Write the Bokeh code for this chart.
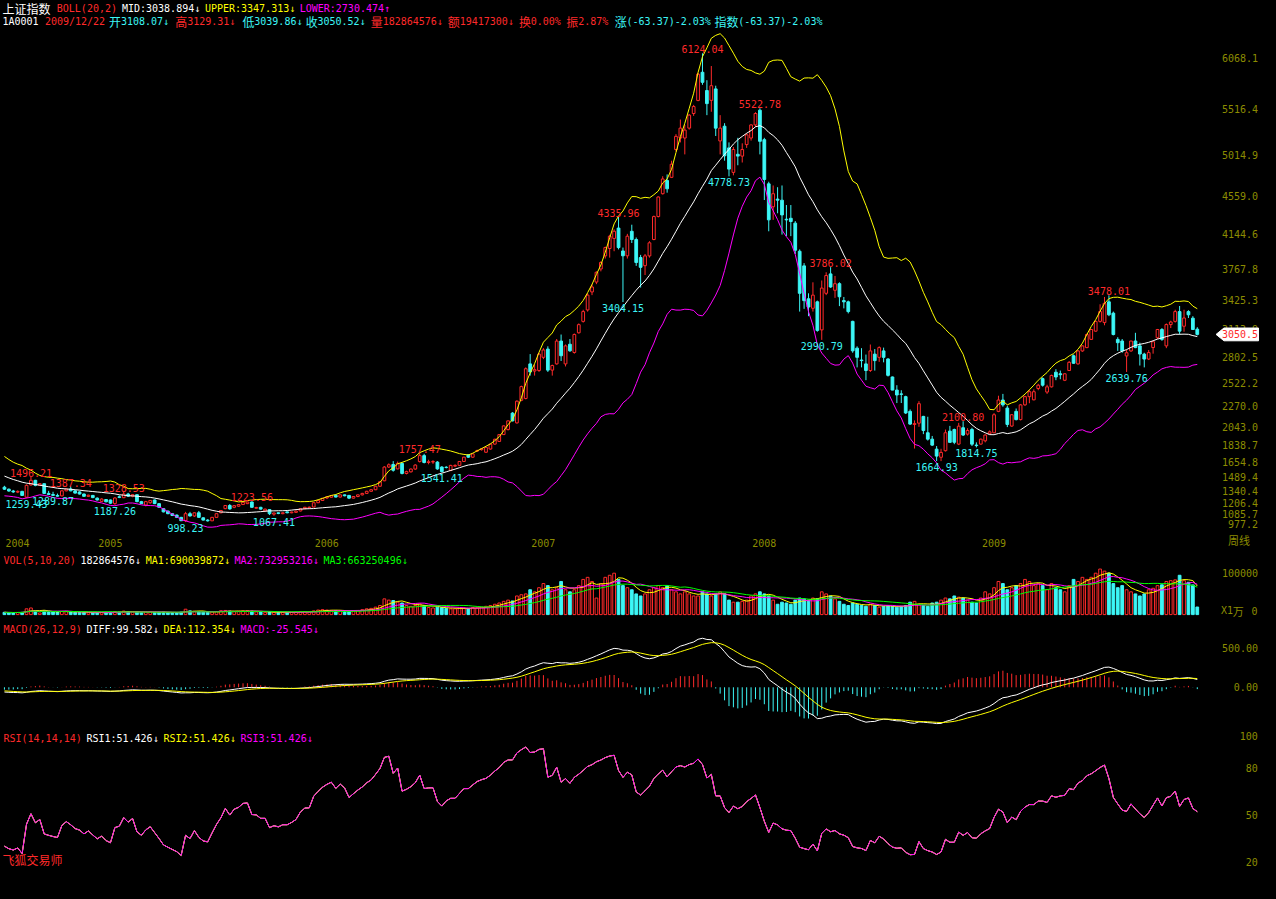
import numpy as np
import pandas as pd
from bokeh.plotting import figure
from bokeh.layouts import column
from bokeh.models import Range1d, ColumnDataSource
from bokeh.core.properties import value
from bokeh.embed import file_html
from bokeh.resources import INLINE

# ---------------- data (weekly, 2004-08 .. 2009-12-22) ----------------
YEARS = ["2004", "2005", "2006", "2007", "2008", "2009"]
YEAR_START = [0, 21, 70, 119, 169, 221]

# closes before the first visible week (indicator warm-up only)
PRE_CLOSE = [1510, 1540, 1570, 1590, 1640, 1660, 1680, 1670, 1700, 1720, 1740, 1730, 1745, 1750,
             1720, 1680, 1620, 1595, 1610, 1570, 1590, 1550, 1500, 1470, 1430, 1460, 1420, 1440,
             1400, 1425, 1390, 1410, 1380]

OPEN = [
    1380, 1358, 1338, 1326, 1334, 1270, 1405, 1455, 1400, 1418,
    1312, 1300, 1290, 1285, 1340, 1360, 1340, 1328, 1305, 1280,
    1290, 1260, 1225, 1245, 1240, 1200, 1275, 1265, 1305, 1282,
    1298, 1222, 1185, 1210, 1240, 1200, 1145, 1118, 1090, 1075,
    1050, 1013, 1090, 1065, 1100, 1045, 1020, 1012, 1050, 1100,
    1145, 1180, 1160, 1172, 1190, 1200, 1218, 1150, 1160, 1120,
    1135, 1085, 1100, 1090, 1110, 1100, 1105, 1120, 1145, 1155,
    1163, 1210, 1235, 1262, 1270, 1290, 1272, 1296, 1290, 1260,
    1278, 1296, 1312, 1335, 1352, 1390, 1450, 1600, 1628, 1580,
    1640, 1530, 1548, 1578, 1660, 1725, 1650, 1655, 1654, 1600,
    1598, 1564, 1610, 1618, 1661, 1733, 1708, 1775, 1790, 1762,
    1797, 1851, 1880, 1955, 2010, 2190, 2083, 2330, 2350, 2728,
    2650, 2656, 2800, 2890, 2660, 2728, 2978, 2728, 2943, 2853,
    3068, 3193, 3318, 3515, 3623, 3766, 3909, 3990, 4100, 4213,
    3963, 3910, 4178, 4088, 3891, 3802, 3909, 4088, 4339, 4589,
    4733, 4768, 5072, 5198, 5198, 5306, 5466, 5609, 5917, 5717,
    5610, 5735, 5166, 5327, 5090, 4822, 5020, 5000, 5126, 5198,
    5341, 5502, 5180, 4697, 4446, 4530, 4518, 4310, 4320, 4267,
    3960, 3800, 3440, 3336, 3407, 3100, 3500, 3712, 3533, 3605,
    3420, 3407, 3193, 2900, 2770, 2728, 2656, 2835, 2800, 2870,
    2782, 2585, 2442, 2400, 2370, 2209, 2066, 2080, 2154, 1975,
    1905, 1796, 1707, 1779, 1993, 2011, 1851, 2030, 1960, 2011,
    1840, 1851, 1887, 1965, 1975, 2209, 2333, 2245, 2048, 2209,
    2119, 2280, 2370, 2335, 2459, 2567, 2420, 2477, 2637, 2620,
    2549, 2656, 2817, 2728, 2870, 2906, 2996, 3086, 3193, 3180,
    3407, 3283, 2996, 2978, 2815, 2870, 2978, 2925, 2835, 2781,
    2907, 3014, 3104, 2925, 3158, 3193, 3300, 3140, 3300, 3228,
    3108.07]

HIGH = [
    1395, 1365, 1350, 1345, 1340, 1410, 1496.21, 1460, 1425, 1420,
    1340, 1330, 1310, 1345, 1365, 1387.34, 1345, 1335, 1310, 1298,
    1295, 1268, 1258, 1250, 1245, 1270, 1290, 1328.53, 1318, 1305,
    1300, 1230, 1230, 1240, 1245, 1205, 1150, 1125, 1095, 1080,
    1055, 1110, 1110, 1105, 1120, 1050, 1030, 1055, 1095, 1130,
    1185, 1195, 1185, 1195, 1218, 1222, 1223.56, 1165, 1165, 1145,
    1140, 1100, 1105, 1105, 1115, 1112, 1125, 1150, 1165, 1168,
    1215, 1240, 1262, 1280, 1292, 1300, 1302, 1300, 1295, 1282,
    1300, 1318, 1340, 1360, 1395, 1445, 1610, 1640, 1665, 1660,
    1650, 1560, 1585, 1630, 1757.47, 1745, 1680, 1675, 1665, 1610,
    1610, 1625, 1630, 1665, 1712, 1740, 1750, 1790, 1805, 1820,
    1855, 1910, 1960, 2055, 2110, 2200, 2330, 2490, 2690, 2835,
    2720, 2850, 2900, 2920, 2720, 3000, 3049, 2940, 3000, 3060,
    3170, 3320, 3500, 3600, 3740, 3850, 4010, 4140, 4200, 4335.96,
    4000, 4150, 4250, 4110, 3920, 3930, 4070, 4350, 4560, 4780,
    4800, 4950, 5240, 5400, 5341, 5460, 5560, 5912, 6124.04, 5830,
    5985, 5770, 5448, 5360, 5150, 5100, 5200, 5140, 5250, 5350,
    5480, 5522.78, 5200, 4720, 4679, 4660, 4679, 4465, 4465, 4290,
    3980, 3830, 3500, 3620, 3420, 3640, 3730, 3786.02, 3690, 3620,
    3460, 3420, 3200, 2920, 2900, 2830, 2940, 2890, 2920, 2906,
    2790, 2590, 2495, 2440, 2380, 2230, 2110, 2320, 2160, 2150,
    1940, 1830, 1800, 2010, 2050, 2020, 2083, 2100.80, 2025, 2030,
    1870, 1910, 1958, 2000, 2190, 2380, 2400, 2270, 2180, 2240,
    2290, 2380, 2441, 2450, 2510, 2580, 2500, 2610, 2670, 2655,
    2625, 2760, 2830, 2880, 2930, 3060, 3110, 3200, 3380, 3460,
    3478.01, 3300, 3020, 3000, 2880, 2980, 3068, 2960, 2850, 2880,
    2970, 3110, 3120, 3170, 3200, 3320, 3361, 3320, 3315, 3250,
    3129.31]

LOW = [
    1350, 1330, 1318, 1315, 1285, 1259.43, 1395, 1390, 1395, 1305,
    1295, 1289.87, 1276, 1280, 1335, 1335, 1310, 1300, 1275, 1272,
    1260, 1235, 1220, 1215, 1195, 1187.26, 1260, 1260, 1275, 1270,
    1215, 1195, 1170, 1200, 1195, 1155, 1105, 1085, 1065, 1045,
    1010, 998.23, 1060, 1055, 1045, 1015, 1004, 1010, 1048, 1095,
    1140, 1135, 1150, 1165, 1185, 1195, 1155, 1145, 1135, 1115,
    1075, 1067.41, 1085, 1085, 1095, 1095, 1100, 1115, 1140, 1150,
    1160, 1205, 1230, 1250, 1265, 1268, 1268, 1280, 1250, 1255,
    1270, 1290, 1308, 1330, 1348, 1385, 1445, 1590, 1550, 1575,
    1520, 1520, 1540, 1570, 1650, 1640, 1630, 1635, 1570, 1541.41,
    1585, 1555, 1600, 1610, 1655, 1700, 1700, 1765, 1780, 1755,
    1790, 1845, 1875, 1950, 2000, 2100, 2075, 2320, 2340, 2600,
    2600, 2640, 2780, 2640, 2600, 2720, 2760, 2700, 2860, 2840,
    3060, 3180, 3300, 3480, 3600, 3740, 3880, 3890, 3960, 3980,
    3404.15, 3880, 4050, 3800, 3563, 3700, 3890, 4080, 4330, 4580,
    4600, 4760, 5050, 5150, 5019, 5290, 5440, 5600, 5780, 5448,
    5485, 5220, 5019, 4950, 4778.73, 4790, 4900, 4930, 5090, 5170,
    5320, 5019, 4520, 4178, 4303, 4375, 4142, 4125, 4125, 3930,
    3300, 3330, 3250, 3300, 3080, 2990.79, 3480, 3560, 3450, 3360,
    3335, 3280, 2850, 2690, 2690, 2550, 2640, 2655, 2750, 2745,
    2590, 2440, 2300, 2300, 2180, 2060, 1802.33, 2040, 1960, 1890,
    1830, 1664.93, 1665, 1770, 1868, 1850, 1840, 1940, 1945, 1830,
    1814.75, 1845, 1870, 1955, 1970, 2200, 2260, 2037, 2040, 2110,
    2110, 2270, 2298, 2330, 2440, 2480, 2400, 2470, 2550, 2560,
    2540, 2650, 2728, 2720, 2860, 2900, 2990, 3080, 3180, 3150,
    3250, 3040, 2870, 2850, 2639.76, 2860, 2900, 2710, 2690, 2770,
    2840, 3000, 2980, 2900, 3120, 3180, 3050, 3080, 3230, 3100,
    3039.86]

CLOSE = [
    1358, 1338, 1328, 1334, 1290, 1400, 1455, 1400, 1418, 1312,
    1300, 1290, 1282, 1340, 1360, 1340, 1315, 1305, 1280, 1292,
    1266, 1240, 1250, 1220, 1205, 1262, 1268, 1305, 1282, 1298,
    1222, 1200, 1222, 1235, 1200, 1160, 1110, 1090, 1070, 1050,
    1013, 1090, 1065, 1100, 1050, 1020, 1012, 1050, 1090, 1125,
    1180, 1142, 1178, 1190, 1215, 1218, 1160, 1158, 1140, 1140,
    1090, 1098, 1092, 1100, 1100, 1108, 1118, 1145, 1160, 1161,
    1210, 1235, 1258, 1275, 1288, 1272, 1296, 1286, 1260, 1278,
    1296, 1312, 1335, 1352, 1390, 1440, 1600, 1625, 1565, 1640,
    1530, 1550, 1578, 1622, 1725, 1650, 1658, 1660, 1580, 1550,
    1595, 1618, 1618, 1661, 1708, 1708, 1744, 1780, 1800, 1815,
    1851, 1904, 1955, 2050, 2105, 2105, 2320, 2480, 2675, 2640,
    2665, 2835, 2880, 2660, 2710, 2978, 2817, 2925, 2871, 3050,
    3157, 3300, 3480, 3569, 3730, 3837, 4000, 4124, 4178, 4000,
    3910, 4124, 4088, 3837, 3784, 3909, 4052, 4339, 4553, 4750,
    4643, 4911, 5216, 5306, 5285, 5448, 5542, 5896, 5807, 5574,
    5770, 5306, 5306, 5004, 4858, 5072, 5000, 5072, 5233, 5341,
    5466, 5162, 4745, 4303, 4589, 4518, 4357, 4303, 4285, 3971,
    3500, 3420, 3350, 3480, 3094, 3557, 3694, 3569, 3605, 3462,
    3407, 3300, 2871, 2800, 2764, 2656, 2870, 2764, 2906, 2800,
    2603, 2442, 2388, 2395, 2191, 2070, 2075, 2293, 2000, 1905,
    1840, 1720, 1760, 1975, 1870, 1871, 2047, 1950, 2000, 1850,
    1835, 1905, 1950, 1985, 2172, 2333, 2280, 2066, 2172, 2119,
    2280, 2370, 2424, 2424, 2495, 2495, 2477, 2602, 2585, 2610,
    2620, 2745, 2735, 2870, 2925, 3049, 3104, 3193, 3300, 3390,
    3265, 3049, 2960, 2870, 2850, 2978, 2906, 2836, 2781, 2852,
    2971, 3104, 2996, 3158, 3186, 3300, 3086, 3230, 3265, 3104,
    3050.52]

# weekly volume, unit: 1e4
VOLUME = [
    5500, 5000, 4800, 5200, 5500, 14000, 16000, 9000, 4000, 9500,
    8000, 6500, 6000, 7500, 8000, 6500, 5500, 5000, 5500, 4500, 5000,
    4500, 4800, 5500, 6000, 7500, 6000, 8500, 7000, 6500, 6500,
    5500, 6500, 7000, 5500, 5500, 6000, 5000, 5000, 4500, 6000,
    13000, 9000, 8000, 7500, 6000, 5500, 6500, 7500, 9500, 10000,
    8500, 7000, 8000, 9000, 9500, 8500, 6500, 6000, 5500, 6500,
    5500, 5000, 4800, 5000, 5500, 6000, 7000, 7500, 6000,
    9000, 11000, 12000, 11000, 10000, 9500, 10000, 9000, 8500, 9000,
    10000, 12000, 14000, 15000, 18000, 22000, 38000, 35000, 34000, 30000,
    28000, 22000, 20000, 22000, 26000, 22000, 17000, 16000, 18000, 17000,
    15000, 14000, 14000, 15000, 16000, 15000, 17000, 16000, 18000, 20000,
    22000, 25000, 28000, 32000, 35000, 33000, 45000, 48000, 50000,
    60000, 55000, 65000, 75000, 70000, 60000, 65000, 80000, 60000, 55000,
    60000, 70000, 85000, 90000, 80000, 40000, 75000, 90000, 95000, 100000,
    85000, 70000, 65000, 60000, 50000, 45000, 50000, 60000, 65000, 70000,
    65000, 70000, 60000, 55000, 50000, 55000, 50000, 45000, 45000, 55000,
    50000, 45000, 50000, 55000, 50000, 35000, 30000, 30000, 32000, 35000,
    45000, 50000, 55000, 50000, 45000, 35000, 25000, 30000, 28000, 25000,
    35000, 40000, 38000, 35000, 40000, 38000, 55000, 50000, 45000, 38000,
    32000, 25000, 22000, 28000, 25000, 22000, 20000, 25000, 22000, 18000,
    20000, 22000, 20000, 18000, 20000, 22000, 30000, 32000, 25000, 22000,
    20000, 28000, 30000, 35000, 40000, 38000, 45000, 42000, 40000, 35000,
    30000, 28000,
    40000, 55000, 50000, 65000, 80000, 75000, 60000, 65000, 70000, 75000,
    85000, 80000, 70000, 75000, 70000, 60000, 75000, 65000, 60000, 55000,
    70000, 85000, 80000, 90000, 85000, 90000, 100000, 110000, 105000, 100000,
    75000, 65000, 70000, 60000, 55000, 50000, 45000, 50000, 60000, 63500,
    70000, 72000, 80000, 82000, 83900, 95000, 82000, 78000, 71700, 18286]

HI_MARKS = [6, 15, 27, 56, 94, 139, 158, 171, 187, 217, 250]
LO_MARKS = [5, 11, 25, 41, 61, 99, 140, 164, 185, 211, 220, 254]

PRICE_TICKS = [6068.1, 5516.4, 5014.9, 4559.0, 4144.6, 3767.8, 3425.3, 3113.9, 2802.5,
               2522.2, 2270.0, 2043.0, 1838.7, 1654.8, 1489.4, 1340.4, 1206.4, 1085.7, 977.2]
VOL_TICKS = [100000, 0]
MACD_TICKS = [500, 0]
RSI_TICKS = [100, 80, 50, 20]

N = len(CLOSE)
assert len(OPEN) == N and len(HIGH) == N and len(LOW) == N and len(VOLUME) == N

# ---------------- indicators ----------------
full = pd.Series(PRE_CLOSE + CLOSE, dtype=float)
npre = len(PRE_CLOSE)
mid = full.rolling(20).mean()
sd = full.rolling(20).std(ddof=1)
upper = (mid + 2 * sd).iloc[npre:].values
lower = (mid - 2 * sd).iloc[npre:].values
mid = mid.iloc[npre:].values

ema12 = full.ewm(span=12, adjust=False).mean()
ema26 = full.ewm(span=26, adjust=False).mean()
diff = ema12 - ema26
dea = diff.ewm(span=9, adjust=False).mean()
macd = 2 * (diff - dea)
diff = diff.iloc[npre:].values
dea = dea.iloc[npre:].values
macd = macd.iloc[npre:].values

chg = full.diff().fillna(0.0)
rsi = chg.clip(lower=0).ewm(alpha=1 / 14, adjust=False).mean() / chg.abs().ewm(alpha=1 / 14, adjust=False).mean() * 100
rsi = rsi.fillna(50).iloc[npre:].values

vol = pd.Series(VOLUME, dtype=float)
ma5 = vol.rolling(5, min_periods=1).mean().values
ma10 = vol.rolling(10, min_periods=1).mean().values
ma20 = vol.rolling(20, min_periods=1).mean().values

# ---------------- styling / geometry ----------------
RED = "#FF2A2A"
CYAN = "#3CF6F6"
YEL = "#FFFF00"
MAG = "#FF00FF"
WHITE = "#FFFFFF"
GREEN = "#00FF00"
OLIVE = "#8C8C00"
MONO = "DejaVu Sans Mono"
CJK = "Noto Sans CJK SC"

X0, DX = 4.0, 4.474


def fx(px):
    return (px - X0) / DX


def f_price(py):
    return 977.2 + (533 - py) * 10.740


def f_vol(py):
    return (625 - py) * 2381.0


def f_macd(py):
    return (699 - py) * 12.5


def f_rsi(py):
    return 80 + (781 - py) * 0.625


xr = Range1d(fx(0), fx(1276))
W = 1260


def make_fig(h, fy, top, bottom):
    p = figure(width=W, height=h, x_range=xr, y_range=Range1d(fy(bottom), fy(top)),
               output_backend="svg", toolbar_location=None,
               x_axis_location=None, y_axis_location=None, min_border=0,
               background_fill_color="black", border_fill_color="black",
               outline_line_color=None)
    p.grid.visible = False
    return p


def put(p, px, y, s, color, align="left", cjk_size=12):
    runs = []
    for ch in s:
        c = ord(ch) >= 0x2E80
        if runs and runs[-1][1] == c:
            runs[-1][0] += ch
        else:
            runs.append([ch, c])
    if align == "right":
        px = px - sum(len(t) * (cjk_size if c else 6) for t, c in runs)
    for t, c in runs:
        p.text(x=[fx(px)], y=[y], text=[t], text_color=color,
               text_font=value(CJK if c else MONO),
               text_font_size=f"{cjk_size}px" if c else "10px",
               text_align="left", text_baseline="middle")
        px += len(t) * (cjk_size if c else 6)


p1 = make_fig(552, f_price, 0, 562)
p2 = make_fig(69, f_vol, 562, 632)
p3 = make_fig(109, f_macd, 632, 743)
p4 = make_fig(153, f_rsi, 743, 899)

idx = np.arange(N)
O = np.array(OPEN, float)
Hh = np.array(HIGH, float)
Lw = np.array(LOW, float)
C = np.array(CLOSE, float)
up = C >= O
col = np.where(up, RED, CYAN)
fill = np.where(up, "black", CYAN)
src = ColumnDataSource(dict(x=idx, hi=Hh, lo=Lw, bt=np.maximum(O, C), bb=np.minimum(O, C),
                            col=col, fill=fill, vol=np.array(VOLUME, float)))

# price panel
p1.segment(x0="x", y0="hi", x1="x", y1="bt", line_color="col", line_width=1, source=src)
p1.segment(x0="x", y0="bb", x1="x", y1="lo", line_color="col", line_width=1, source=src)
p1.vbar(x="x", width=0.62, top="bt", bottom="bb", fill_color="fill", line_color="col",
        line_width=1, source=src)
p1.line(idx, mid, line_color=WHITE, line_width=1)
p1.line(idx, upper, line_color=YEL, line_width=1)
p1.line(idx, lower, line_color=MAG, line_width=1)

for i in HI_MARKS:
    p1.text(x=[i], y=[HIGH[i]], text=[f"{HIGH[i]:.2f}"], text_color=RED, text_font=value(MONO),
            text_font_size="10px", text_align="center", text_baseline="bottom")
for i in LO_MARKS:
    p1.text(x=[i], y=[LOW[i] - 2 * 10.74], text=[f"{LOW[i]:.2f}"], text_color=CYAN,
            text_font=value(MONO), text_font_size="10px", text_align="center", text_baseline="top")

for t in PRICE_TICKS:
    put(p1, 1273, t, f"{t:.1f}", OLIVE, align="right")
put(p1, 1265, f_price(549), "周线", OLIVE, align="right", cjk_size=11)
for yl, si in zip(YEARS, YEAR_START):
    p1.text(x=[si + 0.25], y=[f_price(552)], text=[yl], text_color=OLIVE, text_font=value(MONO),
            text_font_size="10px", text_align="left", text_baseline="middle")

# last price marker
yc = C[-1]
hh = 6.5 * 10.74
p1.patch([fx(1231), fx(1239), fx(1274), fx(1274), fx(1239)],
         [yc, yc + hh, yc + hh, yc - hh, yc - hh], fill_color=WHITE, line_color=WHITE)
put(p1, 1273, yc, f"{yc:.1f}", RED, align="right")

for px, s, c in [(2, "上证指数", WHITE), (57, "BOLL(20,2)", RED), (123, "MID:3038.894↓", WHITE),
                 (207, "UPPER:3347.313↓", YEL), (303, "LOWER:2730.474↑", MAG)]:
    put(p1, px, f_price(8), s, c)
for px, s, c in [(2, "1A0001", WHITE), (45, "2009/12/22", RED), (110, "开3108.07↓", CYAN),
                 (177, "高3129.31↓", RED), (245, "低3039.86↓", CYAN), (309, "收3050.52↓", CYAN),
                 (375, "量182864576↓", RED), (453, "额19417300↓", RED), (525, "换0.00%", RED),
                 (573, "振2.87%", RED), (622, "涨(-63.37)-2.03%", CYAN),
                 (723, "指数(-63.37)-2.03%", CYAN)]:
    put(p1, px, f_price(21), s, c)

# volume panel
p2.vbar(x="x", width=0.62, top="vol", bottom=0, fill_color="fill", line_color="col",
        line_width=1, source=src)
p2.line(idx, ma5, line_color=YEL, line_width=1)
p2.line(idx, ma10, line_color=MAG, line_width=1)
p2.line(idx, ma20, line_color=GREEN, line_width=1)
for px, s, c in [(3, "VOL(5,10,20)", RED), (81, "182864576↓", WHITE), (147, "MA1:690039872↓", YEL),
                 (237, "MA2:732953216↓", MAG), (327, "MA3:663250496↓", GREEN)]:
    put(p2, px, f_vol(570), s, c)
put(p2, 1273, VOL_TICKS[0], f"{VOL_TICKS[0]}", OLIVE, align="right")
put(p2, 1273, f_vol(621), f"{VOL_TICKS[1]}", OLIVE, align="right")
put(p2, 1236, f_vol(621), "X1万", OLIVE, cjk_size=11)

# MACD panel
p3.segment(x0=idx, y0=np.zeros(N), x1=idx, y1=macd, line_color=list(np.where(macd >= 0, RED, CYAN)),
           line_width=1)
p3.line(idx, diff, line_color=WHITE, line_width=1)
p3.line(idx, dea, line_color=YEL, line_width=1)
for px, s, c in [(3, "MACD(26,12,9)", RED), (87, "DIFF:99.582↓", WHITE), (165, "DEA:112.354↓", YEL),
                 (243, "MACD:-25.545↓", MAG)]:
    put(p3, px, f_macd(640), s, c)
for t in MACD_TICKS:
    put(p3, 1273, t, f"{t:.2f}", OLIVE, align="right")

# RSI panel
p4.line(idx, rsi, line_color=WHITE, line_width=1)
p4.line(idx, rsi, line_color=YEL, line_width=1)
p4.line(idx, rsi, line_color=MAG, line_width=1)
for px, s, c in [(3, "RSI(14,14,14)", RED), (87, "RSI1:51.426↓", WHITE), (165, "RSI2:51.426↓", YEL),
                 (243, "RSI3:51.426↓", MAG)]:
    put(p4, px, f_rsi(751), s, c)
for t in RSI_TICKS:
    put(p4, 1273, t, f"{t}", OLIVE, align="right")
put(p4, 2, f_rsi(875), "飞狐交易师", RED)

layout = column(p1, p2, p3, p4, spacing=0)
html = file_html(layout, INLINE, title="上证指数 周线")
html = html.replace("</head>", "<style>body{background:#000000;}</style></head>", 1)
with open("out.html", "w", encoding="utf-8") as fh:
    fh.write(html)
